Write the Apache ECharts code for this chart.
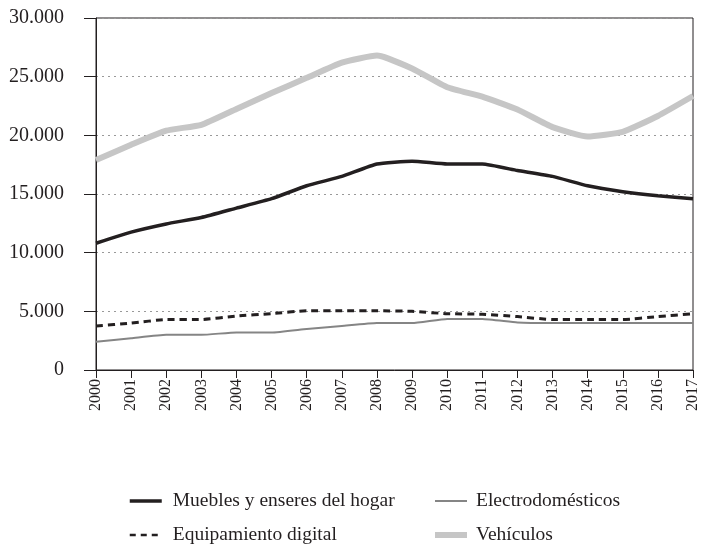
<!DOCTYPE html>
<html>
<head>
<meta charset="utf-8">
<script src="https://cdn.jsdelivr.net/npm/echarts@6/dist/echarts.min.js"></script>
<style>
  html, body { margin: 0; padding: 0; background: #fff; }
  #chart { width: 701px; height: 549px; }
</style>
</head>
<body>
<div id="chart"></div>
<script>
// años
const years = ["2000", "2001", "2002", "2003", "2004", "2005", "2006", "2007", "2008",
  "2009", "2010", "2011", "2012", "2013", "2014", "2015", "2016", "2017"];

// series
const muebles = [10800, 11750, 12450, 13000, 13800, 14600, 15700, 16500, 17550,
  17800, 17550, 17550, 17000, 16500, 15700, 15200, 14850, 14600];
const equipamiento = [3750, 4000, 4300, 4300, 4600, 4800, 5050, 5050, 5050,
  5000, 4800, 4750, 4550, 4300, 4300, 4300, 4550, 4800];
const electro = [2400, 2700, 3000, 3000, 3200, 3200, 3500, 3750, 4000,
  4000, 4350, 4350, 4050, 4000, 4000, 4000, 4000, 4000];
const vehiculos = [17900, 19200, 20400, 20900, 22250, 23600, 24900, 26200, 26800,
  25700, 24100, 23300, 22200, 20700, 19900, 20300, 21650, 23350];

const yTicks = [0, 5000, 10000, 15000, 20000, 25000, 30000];

const serif = "'Liberation Serif', 'DejaVu Serif', serif";
const ink = "#231f20";
const gris = "#858585";
const grisClaro = "#c6c6c6";

const chart = echarts.init(document.getElementById("chart"));

// leyenda en dos columnas
const legendBase = {
  orient: "vertical",
  top: 490,
  itemGap: 12,
  itemWidth: 32,
  itemHeight: 14,
  itemStyle: { opacity: 0 },
  padding: 0
};
const legendText = { fontFamily: serif, fontSize: 19.5, lineHeight: 22, color: ink };

chart.setOption({
  animation: false,
  grid: {
    left: 96,
    right: 8,
    top: 18,
    bottom: 179,
    show: true,
    borderColor: ink,
    borderWidth: 1
  },
  legend: [
    Object.assign({}, legendBase, {
      left: 128,
      textStyle: Object.assign({ padding: [0, 0, 0, 6] }, legendText),
      data: [
        { name: "Muebles y enseres del hogar", lineStyle: { color: ink, width: 3.5 } },
        { name: "Equipamiento digital", lineStyle: { color: ink, width: 2.5, type: [6, 5] } }
      ]
    }),
    Object.assign({}, legendBase, {
      left: 432,
      textStyle: Object.assign({ padding: [0, 0, 0, 4] }, legendText),
      data: [
        { name: "Electrodomésticos", lineStyle: { color: gris, width: 2 } },
        { name: "Vehículos", lineStyle: { color: grisClaro, width: 6 } }
      ]
    })
  ],
  xAxis: {
    type: "category",
    data: years,
    boundaryGap: false,
    axisLine: { lineStyle: { color: ink, width: 1 } },
    axisTick: { show: true, length: 8, lineStyle: { color: ink } },
    axisLabel: {
      rotate: 90,
      margin: 9,
      fontFamily: serif,
      fontSize: 16,
      color: ink
    }
  },
  yAxis: {
    type: "value",
    min: yTicks[0],
    max: yTicks[yTicks.length - 1],
    interval: 5000,
    axisLine: { show: true, lineStyle: { color: ink, width: 1 } },
    axisTick: { show: true, length: 12, lineStyle: { color: ink } },
    axisLabel: {
      margin: 32,
      fontFamily: serif,
      fontSize: 20,
      color: ink,
      formatter: v => v === 0 ? "0" : String(v).replace(/\B(?=(\d{3})+(?!\d))/g, ".")
    },
    splitLine: {
      show: true,
      lineStyle: { color: "#999", type: [2, 4], width: 1 }
    }
  },
  series: [
    {
      name: "Vehículos",
      type: "line",
      data: vehiculos,
      symbol: "none",
      smooth: 0.15,
      z: 1,
      lineStyle: { color: grisClaro, width: 6 },
      itemStyle: { color: grisClaro }
    },
    {
      name: "Muebles y enseres del hogar",
      type: "line",
      data: muebles,
      symbol: "none",
      smooth: 0.15,
      z: 3,
      lineStyle: { color: ink, width: 3.5 },
      itemStyle: { color: ink }
    },
    {
      name: "Equipamiento digital",
      type: "line",
      data: equipamiento,
      symbol: "none",
      smooth: 0.15,
      z: 3,
      lineStyle: { color: ink, width: 3, type: [7, 5] },
      itemStyle: { color: ink }
    },
    {
      name: "Electrodomésticos",
      type: "line",
      data: electro,
      symbol: "none",
      smooth: 0.15,
      z: 2,
      lineStyle: { color: gris, width: 2 },
      itemStyle: { color: gris }
    }
  ]
});
</script>
</body>
</html>
